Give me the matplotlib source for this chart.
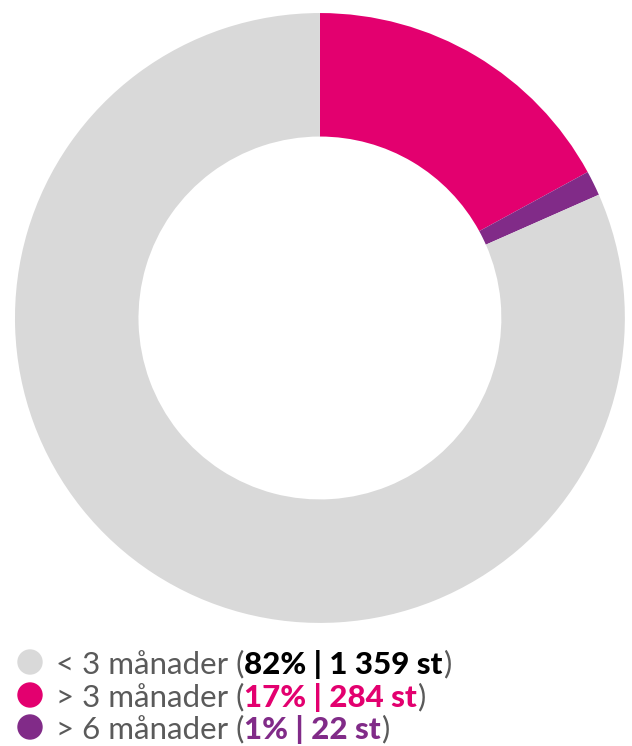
import matplotlib.pyplot as plt
from matplotlib.patches import Ellipse

# Data
labels = ['< 3 månader', '> 3 månader', '> 6 månader']
counts = [1359, 284, 22]
percents = ['82%', '17%', '1%']
colors = ['#d9d9d9', '#e3006f', '#812b88']
value_colors = ['#000000', '#e3006f', '#812b88']

W, H = 632, 746
fig = plt.figure(figsize=(W / 100, H / 100), dpi=100)

# Donut: pink first, clockwise from top
ax = fig.add_axes([0.0237, 0.1649, 0.965, 0.8177])
order = [1, 2, 0]
ax.pie([counts[i] for i in order], colors=[colors[i] for i in order],
       startangle=90, counterclock=False,
       wedgeprops=dict(width=0.405, linewidth=0))
ax.set_aspect('equal')
ax.set_xlim(-1, 1)
ax.set_ylim(-1, 1)
ax.axis('off')

# Legend rows
rows_y = [662, 695, 727]
fs = 22.5
for i in range(3):
    y = 1 - rows_y[i] / H
    fig.patches.append(Ellipse((30 / W, y), 24 / W, 24 / H, transform=fig.transFigure,
                               color=colors[i], figure=fig))
    t1 = fig.text(56 / W, y, labels[i] + ' (', fontsize=fs, family='Lato',
                  weight='normal', color='#5a5a5a', va='center_baseline')
    val = percents[i] + ' | ' + f'{counts[i]:,}'.replace(',', ' ') + ' st'
    a2 = plt.annotate(val, xy=(1, 0), xycoords=t1, va='bottom', fontsize=fs,
                      family='Lato', weight='black', color=value_colors[i])
    plt.annotate(')', xy=(1, 0), xycoords=a2, va='bottom', fontsize=fs,
                 family='Lato', weight='normal', color='#5a5a5a')

fig.savefig('out.png', dpi=100)
